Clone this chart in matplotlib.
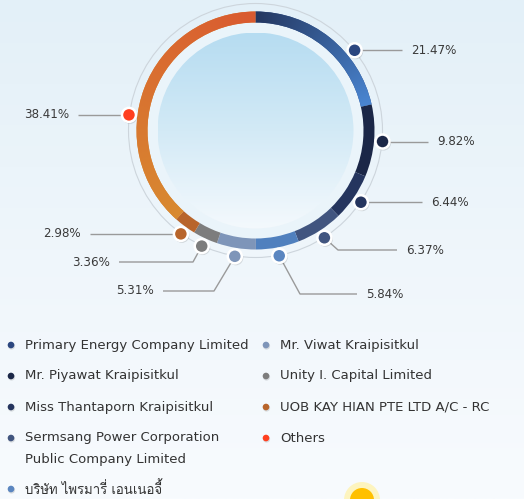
import numpy as np
import matplotlib
matplotlib.use("Agg")
import matplotlib.pyplot as plt
from matplotlib import font_manager
from matplotlib.patches import Circle
from matplotlib.colors import LinearSegmentedColormap

# ---------------- data ----------------
holders = [
    "Primary Energy Company Limited",
    "Mr. Piyawat Kraipisitkul",
    "Miss Thantaporn Kraipisitkul",
    "Sermsang Power Corporation\nPublic Company Limited",
    "บริษัท ไพรมารี่ เอนเนอจี้",
    "Mr. Viwat Kraipisitkul",
    "Unity I. Capital Limited",
    "UOB KAY HIAN PTE LTD A/C - RC",
    "Others",
]
shares = [21.47, 9.82, 6.44, 6.37, 5.84, 5.31, 3.36, 2.98, 38.41]
labels = ["21.47%", "9.82%", "6.44%", "6.37%", "5.84%", "5.31%", "3.36%", "2.98%", "38.41%"]

colors = ["#2f4f8c", "#1b2747", "#25355e", "#41557f", "#5080be",
          "#7e95b9", "#7d7d7d", "#b8652b", "#d98631"]
dot_colors = ["#2b467f", "#1b2747", "#25355e", "#41557f", "#5b86c0",
              "#7e95b9", "#7d7d7d", "#b8652b", "#ff4020"]

# ---------------- fonts ----------------
def find_thai_font():
    try:
        from fontTools.ttLib import TTFont
    except Exception:
        return None
    for f in font_manager.fontManager.ttflist:
        try:
            tt = TTFont(f.fname, fontNumber=0, lazy=True)
            cmap = tt.getBestCmap()
            if cmap and 0x0E1A in cmap and 0x0E29 in cmap:
                return f.name
        except Exception:
            continue
    return None

thai = find_thai_font()
base = "DejaVu Sans"
fam = [base] + ([thai] if thai else [])
plt.rcParams["font.family"] = fam

W, H = 524, 499
fig = plt.figure(figsize=(W / 100, H / 100), dpi=100)
ax = fig.add_axes([0, 0, 1, 1])

def Y(y):
    return H - y

# background gradient (top bluish, bottom whiter)
bg = LinearSegmentedColormap.from_list("bg", ["#e3f0f8", "#eff6fb", "#f8fbfe"])
grad = np.linspace(0, 1, 256).reshape(-1, 1)
ax.imshow(grad, extent=[0, W, 0, H], cmap=bg, aspect="auto", zorder=0, origin="upper")

cx, cy = 255.5, Y(130.5)
R_out, ring_w = 119, 11

# thin outer circle
ax.add_patch(Circle((cx, cy), 127, fill=False, ec="#cdd5dc", lw=0.8, zorder=1))
# pale band
ax.add_patch(Circle((cx, cy), 110, fc="#eaf4fa", ec="none", zorder=1))
# centre disk with gradient
disk = Circle((cx, cy), 98, fc="none", ec="none", zorder=2)
ax.add_patch(disk)
dcm = LinearSegmentedColormap.from_list("d", ["#b6dcf1", "#d3eaf6", "#f4f9fd"])
im = ax.imshow(grad, extent=[cx - 98, cx + 98, cy - 98, cy + 98], cmap=dcm,
               aspect="auto", zorder=2, origin="upper")
im.set_clip_path(disk)

# ring via pie
wedges, _ = ax.pie(shares, colors=colors, startangle=90, counterclock=False,
                   radius=R_out, center=(cx, cy),
                   wedgeprops=dict(width=ring_w, linewidth=0), frame=True)

def angular_gradient(w, c0, c1):
    th1, th2 = w.theta1, w.theta2
    ext = [cx - 130, cx + 130, cy - 130, cy + 130]
    gx = np.linspace(ext[0], ext[1], 400)
    gy = np.linspace(ext[3], ext[2], 400)
    GX, GY = np.meshgrid(gx, gy)
    ang = np.degrees(np.arctan2(GY - cy, GX - cx)) % 360
    a1, a2 = th1 % 360, th2 % 360
    span = (a2 - a1) % 360
    t = np.clip(((ang - a1) % 360) / span, 0, 1)
    cm = LinearSegmentedColormap.from_list("g", [c0, c1])
    img = ax.imshow(t, extent=ext, cmap=cm, vmin=0, vmax=1, zorder=w.get_zorder() + 0.1,
                    origin="upper", aspect="auto", interpolation="bilinear")
    img.set_clip_path(w)

angular_gradient(wedges[0], "#4a86d2", "#243760")
angular_gradient(wedges[-1], "#da5a30", "#d88a30")

# label anchors: fraction along each wedge where the dot sits
anchor_frac = [0.66, 0.5, 0.5, 0.5, 0.5, 0.5, 0.5, 0.45, 0.40]
cum = np.concatenate([[0], np.cumsum(shares)]) / sum(shares)
r_dot = 127.5

# label layout: (elbow point in px, line end x, side)
layout = [
    (None, 402, "r"),
    (None, 428, "r"),
    (None, 422, "r"),
    ((338, 250), 397, "r"),
    ((300, 294), 357, "r"),
    ((214, 291), 163, "l"),
    ((193, 262), 119, "l"),
    (None, 90, "l"),
    (None, 78, "l"),
]

lab_fs = 8.6
for i, v in enumerate(shares):
    f = cum[i] + anchor_frac[i] * (cum[i + 1] - cum[i])
    a = 2 * np.pi * f
    px = cx + r_dot * np.sin(a)
    py = cy + r_dot * np.cos(a)
    elbow, endx, side = layout[i]
    if elbow is None:
        pts = [(px, py), (endx, py)]
        ly = py
    else:
        ex, ey = elbow[0], Y(elbow[1])
        pts = [(px, py), (ex, ey), (endx, ey)]
        ly = ey
    xs, ys = zip(*pts)
    ax.plot(xs, ys, color="#9a9a9a", lw=1.0, zorder=3, solid_capstyle="butt")
    ax.add_patch(Circle((px + 1, py - 1.5), 7.5, fc="#000000", alpha=0.12, ec="none", zorder=4))
    ax.add_patch(Circle((px, py), 7, fc=dot_colors[i], ec="white", lw=1.8, zorder=5))
    if side == "r":
        ax.text(endx + 9, ly, labels[i], ha="left", va="center", fontsize=lab_fs,
                color="#3a3a3a", zorder=6)
    else:
        ax.text(endx - 9, ly, labels[i], ha="right", va="center", fontsize=lab_fs,
                color="#3a3a3a", zorder=6)

# legend
left_rows = [(0, 345), (1, 376), (2, 407), (3, 438), (4, 489)]
right_rows = [(5, 345), (6, 376), (7, 407), (8, 438)]
leg_fs = 9.5
for rows, dx, tx in [(left_rows, 11, 25), (right_rows, 266, 280)]:
    for idx, y in rows:
        ax.add_patch(Circle((dx + 0.5, Y(y) - 1), 3.6, fc="#000000", alpha=0.12, ec="none", zorder=4))
        ax.add_patch(Circle((dx, Y(y)), 3.3, fc=dot_colors[idx], ec="none", zorder=5))
        for k, line in enumerate(holders[idx].split("\n")):
            ax.text(tx, Y(y + 21 * k), line, ha="left", va="center",
                    fontsize=leg_fs, color="#333333", zorder=6)

# sun decoration
ax.add_patch(Circle((362, Y(500)), 18, fc="#fff3b0", ec="none", alpha=0.8, zorder=3))
ax.add_patch(Circle((362, Y(500)), 12, fc="#ffc000", ec="none", zorder=4))

ax.set_xlim(0, W)
ax.set_ylim(0, H)
ax.set_aspect("auto")
ax.axis("off")
fig.savefig("out.png", dpi=100)
